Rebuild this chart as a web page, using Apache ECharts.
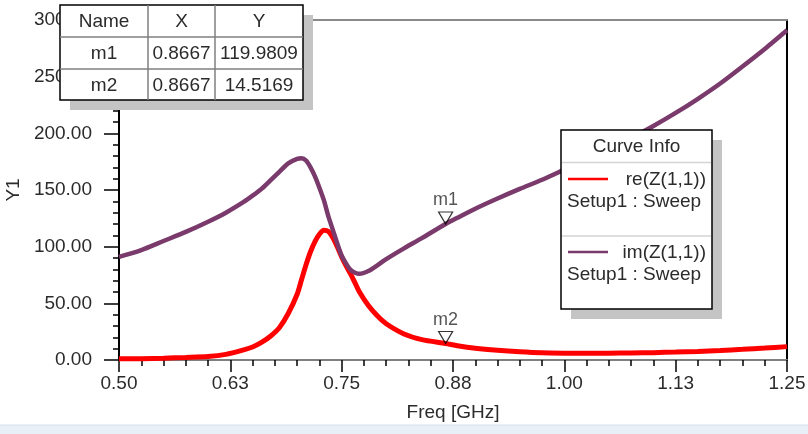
<!DOCTYPE html>
<html>
<head>
<meta charset="utf-8">
<script src="https://cdn.jsdelivr.net/npm/echarts@6/dist/echarts.min.js"></script>
<style>
  html, body { margin: 0; padding: 0; background: #ffffff; }
  #chart { width: 808px; height: 434px; }
</style>
</head>
<body>
<div id="chart"></div>
<script>
// Input impedance sweep: real and imaginary part of Z(1,1) versus frequency
const freqGHz = [0.50, 0.525, 0.55, 0.575, 0.60, 0.62, 0.64, 0.65, 0.66, 0.67,
                 0.68, 0.69, 0.70, 0.705, 0.71, 0.715, 0.72, 0.725, 0.73, 0.735,
                 0.74, 0.745, 0.75, 0.755, 0.76, 0.765, 0.77, 0.78, 0.79, 0.80,
                 0.82, 0.84, 0.8667, 0.88, 0.90, 0.925, 0.95, 0.975, 1.00, 1.025,
                 1.05, 1.075, 1.10, 1.125, 1.15, 1.175, 1.20, 1.225, 1.25];
const reZ11 = [1, 1.2, 1.6, 2.2, 3, 5, 9, 11.5, 15.5, 21,
               28.5, 41, 58, 71, 84, 95.5, 104.5, 111, 114.5, 113.5,
               108, 100, 91, 83, 76, 68, 60, 48, 39, 32,
               23, 18, 14.5169, 12.5, 10.3, 8.5, 7.2, 6.3, 6, 5.9,
               6, 6.2, 6.5, 7, 7.6, 8.4, 9.4, 10.5, 11.8];
const imZ11 = [91, 97, 105, 113, 122, 130, 139.5, 145, 151, 158.5,
               166, 173.5, 177.5, 178, 176, 170, 162, 152, 141, 127,
               115, 103, 92, 85, 79.5, 77, 76, 78.5, 83.5, 89,
               98.5, 107.5, 119.9809, 125.5, 133.5, 142.5, 151, 159, 168, 177,
               186.5, 196, 206.5, 218, 230.5, 244, 259, 274.5, 291];

const seriesNames = ['re(Z(1,1))', 'im(Z(1,1))'];
const sweepName = 'Setup1 : Sweep';

// Markers placed on the traces
const markerNames = ['m1', 'm2'];
const markerX = [0.8667, 0.8667];
const markerY = [119.9809, 14.5169];

const xTickLabels = ['0.50', '0.63', '0.75', '0.88', '1.00', '1.13', '1.25'];
const yTickLabels = ['0.00', '50.00', '100.00', '150.00', '200.00', '250.00', '300.00'];

const RED = '#ff0000';
const PURPLE = '#7a3a6c';
const FONT = '"Liberation Sans", Arial, sans-serif';
const TXT = '#2b2b2b';
const FS = 19;

const chart = echarts.init(document.getElementById('chart'), null, { renderer: 'canvas' });

const toPairs = ys => freqGHz.map((f, i) => [f, ys[i]]);

// Put overlay boxes on their own layer above the plot
const onTop = els => els.map(e => Object.assign({ zlevel: 2, z: 100 }, e));

// Marker table (top left) built from the marker arrays
function markerTable() {
  const x0 = 60, y0 = 5, colX = [60, 148, 215, 303], rowY = [5, 37, 69, 100];
  const els = [];
  els.push({ type: 'rect', shape: { x: x0 + 10, y: y0 + 10, width: 243, height: 95 },
             style: { fill: '#c4c4c4' } });
  els.push({ type: 'rect', shape: { x: x0, y: y0, width: 243, height: 95 },
             style: { fill: '#ffffff', stroke: '#000000', lineWidth: 1.5 } });
  [1, 2].forEach(i => els.push({ type: 'line',
    shape: { x1: colX[i], y1: rowY[0], x2: colX[i], y2: rowY[3] },
    style: { stroke: '#7f7f7f', lineWidth: 1.5 } }));
  [1, 2].forEach(i => els.push({ type: 'line',
    shape: { x1: colX[0], y1: rowY[i], x2: colX[3], y2: rowY[i] },
    style: { stroke: '#7f7f7f', lineWidth: 1.5 } }));
  const rows = [['Name', 'X', 'Y']].concat(markerNames.map((n, i) =>
    [n, markerX[i].toFixed(4), markerY[i].toFixed(4)]));
  rows.forEach((r, ri) => r.forEach((t, ci) => els.push({
    type: 'text',
    style: { text: t, x: (colX[ci] + colX[ci + 1]) / 2, y: (rowY[ri] + rowY[ri + 1]) / 2 + 1,
             align: 'center', verticalAlign: 'middle', font: FS + 'px ' + FONT, fill: TXT }
  })));
  return els;
}

// Curve info box (right) built from the series names
function curveInfo() {
  const L = 561, T = 130, W = 151, H = 179;
  const colors = [RED, PURPLE];
  const els = [
    { type: 'rect', shape: { x: L + 10, y: T + 10, width: W, height: H }, style: { fill: '#c4c4c4' } },
    { type: 'rect', shape: { x: L, y: T, width: W, height: H },
      style: { fill: '#ffffff', stroke: '#000000', lineWidth: 1.5 } },
    { type: 'text', style: { text: 'Curve Info', x: L + W / 2, y: T + 17, align: 'center',
      verticalAlign: 'middle', font: FS + 'px ' + FONT, fill: TXT } },
    { type: 'line', shape: { x1: L + 1, y1: 162.5, x2: L + W - 1, y2: 162.5 },
      style: { stroke: '#d4d4d4', lineWidth: 1.5 } },
    { type: 'line', shape: { x1: L + 1, y1: 236, x2: L + W - 1, y2: 236 },
      style: { stroke: '#d4d4d4', lineWidth: 1.5 } }
  ];
  const rowTop = [179, 252];
  seriesNames.forEach((n, i) => {
    els.push({ type: 'line', shape: { x1: 568, y1: rowTop[i], x2: 608, y2: rowTop[i] },
               style: { stroke: colors[i], lineWidth: 2.5 } });
    els.push({ type: 'text', style: { text: n, x: 706, y: rowTop[i] + 1, align: 'right',
               verticalAlign: 'middle', font: FS + 'px ' + FONT, fill: TXT } });
    els.push({ type: 'text', style: { text: sweepName, x: 567, y: rowTop[i] + 23, align: 'left',
               verticalAlign: 'middle', font: FS + 'px ' + FONT, fill: TXT } });
  });
  return els;
}

const option = {
  backgroundColor: '#ffffff',
  animation: false,
  grid: { left: 119, right: 21, top: 20, bottom: 74, containLabel: false, outerBoundsMode: 'none' },
  xAxis: [{
    type: 'value', min: 0.5, max: 1.25, interval: 0.125,
    name: 'Freq [GHz]', nameLocation: 'middle', nameGap: 43,
    nameTextStyle: { fontSize: FS, fontFamily: FONT, color: TXT },
    axisLine: { show: true, onZero: false, lineStyle: { color: '#7f7f7f', width: 2 } },
    axisTick: { show: true, length: 12, lineStyle: { color: '#000', width: 1.5 } },
    minorTick: { show: true, splitNumber: 5, length: 6, lineStyle: { color: '#000', width: 1.5 } },
    splitLine: { show: false },
    axisLabel: { margin: 14, fontSize: FS, fontFamily: FONT, color: TXT,
                 formatter: v => xTickLabels[Math.round((v - 0.5) / 0.125)] }
  }, {
    type: 'value', min: 0.5, max: 1.25, position: 'top',
    axisLine: { show: true, onZero: false, lineStyle: { color: '#8a8a8a', width: 2 } },
    axisTick: { show: false }, axisLabel: { show: false }, splitLine: { show: false }
  }],
  yAxis: [{
    type: 'value', min: 0, max: 300, interval: 50,
    name: 'Y1', nameLocation: 'middle', nameGap: 89, nameRotate: 90,
    nameTextStyle: { fontSize: FS, fontFamily: FONT, color: TXT },
    axisLine: { show: true, onZero: false, lineStyle: { color: '#000', width: 2 } },
    axisTick: { show: true, length: 15, lineStyle: { color: '#000', width: 1.5 } },
    minorTick: { show: true, splitNumber: 5, length: 6, lineStyle: { color: '#000', width: 1.5 } },
    splitLine: { show: false },
    axisLabel: { margin: 27, fontSize: FS, fontFamily: FONT, color: TXT,
                 formatter: v => yTickLabels[Math.round(v / 50)] }
  }, {
    type: 'value', min: 0, max: 300, position: 'right',
    axisLine: { show: true, onZero: false, lineStyle: { color: '#000', width: 2 } },
    axisTick: { show: false }, axisLabel: { show: false }, splitLine: { show: false }
  }],
  series: [
    { name: seriesNames[0], type: 'line', data: toPairs(reZ11), showSymbol: false,
      smooth: 0.25, lineStyle: { color: RED, width: 5 }, itemStyle: { color: RED }, z: 3 },
    { name: seriesNames[1], type: 'line', data: toPairs(imZ11), showSymbol: false,
      smooth: 0.25, lineStyle: { color: PURPLE, width: 4.5 }, itemStyle: { color: PURPLE }, z: 4 },
    { name: 'markers', type: 'scatter', z: 10,
      data: markerNames.map((n, i) => ({ name: n, value: [markerX[i], markerY[i]] })),
      symbol: 'path://M0,0L14,0L7,12Z', symbolSize: [14, 12], symbolOffset: [0, '-50%'],
      itemStyle: { color: 'rgba(255,255,255,0)', borderColor: '#000', borderWidth: 1.2 },
      label: { show: true, position: 'top', distance: 2, formatter: p => p.name,
               fontSize: 18, fontFamily: FONT, color: TXT } }
  ],
  graphic: onTop([].concat(
    markerTable(),
    curveInfo(),
    [
      { type: 'rect', shape: { x: 0, y: 425, width: 808, height: 9 }, style: { fill: '#e9eff6' } },
      { type: 'line', shape: { x1: 0, y1: 425, x2: 808, y2: 425 }, style: { stroke: '#d8e0ea', lineWidth: 1 } }
    ]
  ))
};

chart.setOption(option);
</script>
</body>
</html>
